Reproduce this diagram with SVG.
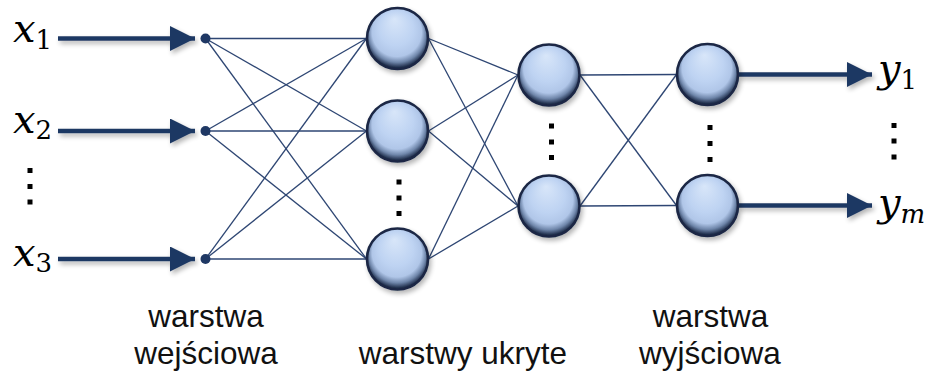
<svg xmlns="http://www.w3.org/2000/svg" width="933" height="371" viewBox="0 0 933 371">
  <defs>
    <radialGradient id="ball" cx="50%" cy="45%" r="52%" fx="45%" fy="18%">
      <stop offset="0" stop-color="#d8e6f9"/>
      <stop offset="0.55" stop-color="#bed3f2"/>
      <stop offset="0.78" stop-color="#b0c6e8"/>
      <stop offset="0.9" stop-color="#6f86aa"/>
      <stop offset="1" stop-color="#23324f"/>
    </radialGradient>
    <filter id="shadow" x="-30%" y="-30%" width="170%" height="170%">
      <feGaussianBlur in="SourceAlpha" stdDeviation="2.5"/>
      <feOffset dx="2" dy="3" result="b"/>
      <feComponentTransfer><feFuncA type="linear" slope="0.3"/></feComponentTransfer>
      <feMerge><feMergeNode/><feMergeNode in="SourceGraphic"/></feMerge>
    </filter>
    <marker id="arrow" viewBox="0 0 25 25" refX="25" refY="12.5" markerWidth="25" markerHeight="25" markerUnits="userSpaceOnUse" orient="auto">
      <path d="M0,0 L25,12.5 L0,25 Z" fill="#1f3864"/>
    </marker>
  </defs>
  <style>
    .node { fill: url(#ball); stroke: #1a2844; stroke-width: 2.6; }
    .link { stroke: #2e4673; stroke-width: 1.3; fill: none; }
    .arr { stroke: #1f3864; stroke-width: 4.5; fill: none; }
    .in { fill: #1f3864; }
    .dot { fill: #000; }
    .math { font-family: "DejaVu Serif", "Liberation Serif", serif; font-style: italic; font-size: 40px; fill: #000; }
    .sub { font-style: normal; font-size: 26px; }
    .subi { font-style: italic; font-size: 26px; }
    .lbl { font-family: "Liberation Sans", Arial, sans-serif; font-size: 31.5px; fill: #111; text-anchor: middle; }
  </style>

  <g id="connectors">
    <g class="link">
      <line x1="205.5" y1="38.5" x2="366.5" y2="38.5"/>
      <line x1="205.5" y1="38.5" x2="366.5" y2="131"/>
      <line x1="205.5" y1="38.5" x2="366.5" y2="259"/>
      <line x1="205.5" y1="131" x2="366.5" y2="38.5"/>
      <line x1="205.5" y1="131" x2="366.5" y2="131"/>
      <line x1="205.5" y1="131" x2="366.5" y2="259"/>
      <line x1="205.5" y1="259" x2="366.5" y2="38.5"/>
      <line x1="205.5" y1="259" x2="366.5" y2="131"/>
      <line x1="205.5" y1="259" x2="366.5" y2="259"/>

      <line x1="428.5" y1="38.5" x2="518" y2="75"/>
      <line x1="428.5" y1="38.5" x2="518" y2="206"/>
      <line x1="428.5" y1="131" x2="518" y2="75"/>
      <line x1="428.5" y1="131" x2="518" y2="206"/>
      <line x1="428.5" y1="259" x2="518" y2="75"/>
      <line x1="428.5" y1="259" x2="518" y2="206"/>

      <line x1="580" y1="75" x2="676.5" y2="74.5"/>
      <line x1="580" y1="75" x2="676.5" y2="205.5"/>
      <line x1="580" y1="206" x2="676.5" y2="74.5"/>
      <line x1="580" y1="206" x2="676.5" y2="205.5"/>
    </g>
    <g class="arr" filter="url(#shadow)">
      <line x1="58" y1="38.5" x2="195" y2="38.5" marker-end="url(#arrow)"/>
      <line x1="58" y1="131" x2="195" y2="131" marker-end="url(#arrow)"/>
      <line x1="58" y1="259" x2="195" y2="259" marker-end="url(#arrow)"/>
      <line x1="738" y1="74.5" x2="872" y2="74.5" marker-end="url(#arrow)"/>
      <line x1="738" y1="205.5" x2="872" y2="205.5" marker-end="url(#arrow)"/>
    </g>
  </g>

  <g id="input-1"><circle class="in" cx="205.5" cy="38.5" r="5"/><text class="math" x="13" y="42">x<tspan class="sub" dy="7">1</tspan></text></g>
  <g id="input-2"><circle class="in" cx="205.5" cy="131" r="5"/><text class="math" x="13" y="133">x<tspan class="sub" dy="6">2</tspan></text></g>
  <g id="input-3"><circle class="in" cx="205.5" cy="259" r="5"/><text class="math" x="13" y="266">x<tspan class="sub" dy="6">3</tspan></text></g>
  <g id="input-dots" class="dot">
    <rect x="27.5" y="168" width="5" height="5"/>
    <rect x="27.5" y="184" width="5" height="5"/>
    <rect x="27.5" y="199.5" width="5" height="5"/>
  </g>

  <g id="hidden1-1" filter="url(#shadow)"><circle class="node" cx="397.5" cy="38.5" r="30.5"/></g>
  <g id="hidden1-2" filter="url(#shadow)"><circle class="node" cx="397.5" cy="131" r="30.5"/></g>
  <g id="hidden1-3" filter="url(#shadow)"><circle class="node" cx="397.5" cy="259" r="30.5"/></g>
  <g id="hidden1-dots" class="dot">
    <rect x="396.5" y="179.5" width="5" height="5"/>
    <rect x="396.5" y="195.5" width="5" height="5"/>
    <rect x="396.5" y="211" width="5" height="5"/>
  </g>

  <g id="hidden2-1" filter="url(#shadow)"><circle class="node" cx="549" cy="75" r="30.5"/></g>
  <g id="hidden2-2" filter="url(#shadow)"><circle class="node" cx="549" cy="206" r="30.5"/></g>
  <g id="hidden2-dots" class="dot">
    <rect x="549" y="123.5" width="5" height="5"/>
    <rect x="549" y="139.5" width="5" height="5"/>
    <rect x="549" y="155" width="5" height="5"/>
  </g>

  <g id="output-1" filter="url(#shadow)"><circle class="node" cx="707.5" cy="74.5" r="30.5"/></g>
  <g id="output-2" filter="url(#shadow)"><circle class="node" cx="707.5" cy="205.5" r="30.5"/></g>
  <g id="output-dots" class="dot">
    <rect x="707.5" y="125" width="5" height="5"/>
    <rect x="707.5" y="141" width="5" height="5"/>
    <rect x="707.5" y="157" width="5" height="5"/>
  </g>

  <g id="y-1"><text class="math" x="878" y="82">y<tspan class="sub" dy="7">1</tspan></text></g>
  <g id="y-m"><text class="math" x="878" y="216">y<tspan class="subi" dy="7">m</tspan></text></g>
  <g id="y-dots" class="dot">
    <rect x="891.5" y="123" width="5" height="5"/>
    <rect x="891.5" y="138.5" width="5" height="5"/>
    <rect x="891.5" y="154.5" width="5" height="5"/>
  </g>

  <g id="labels">
    <text class="lbl" x="206" y="327">warstwa</text>
    <text class="lbl" x="206" y="364">wejściowa</text>
    <text class="lbl" x="463" y="364">warstwy ukryte</text>
    <text class="lbl" x="710.5" y="327">warstwa</text>
    <text class="lbl" x="710" y="364">wyjściowa</text>
  </g>
</svg>
